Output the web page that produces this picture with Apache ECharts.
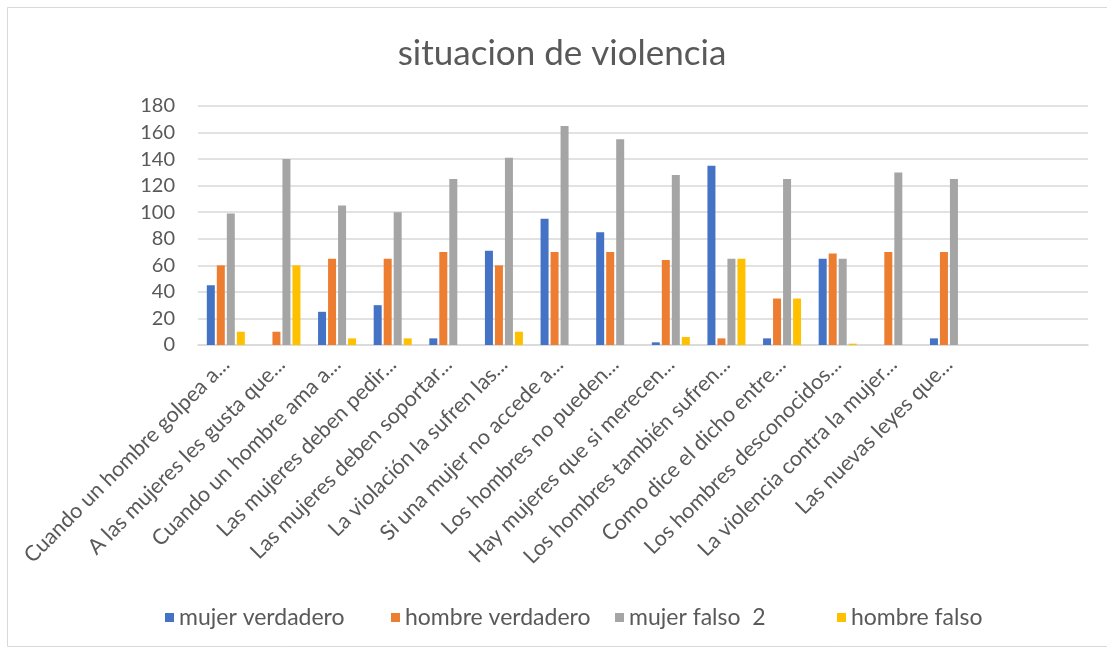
<!DOCTYPE html>
<html>
<head>
<meta charset="utf-8">
<script src="https://cdn.jsdelivr.net/npm/echarts@6/dist/echarts.min.js"></script>
<style>
  html, body { margin: 0; padding: 0; background: #fff; }
  #main { width: 1107px; height: 657px; }
</style>
</head>
<body>
<div id="main"></div>
<script>
// datos
var categorias = [
  'Cuando un hombre golpea a...',
  'A las mujeres les gusta que...',
  'Cuando un hombre ama a...',
  'Las mujeres deben pedir...',
  'Las mujeres deben soportar...',
  'La violación la sufren las...',
  'Si una mujer no accede a...',
  'Los hombres no pueden...',
  'Hay mujeres que si merecen...',
  'Los hombres también sufren...',
  'Como dice el dicho entre...',
  'Los hombres desconocidos...',
  'La violencia contra la mujer...',
  'Las nuevas leyes que...',
  '',
  ''
];
var mujerVerdadero = [45, null, 25, 30, 5, 71, 95, 85, 2, 135, 5, 65, null, 5];
var hombreVerdadero = [60, 10, 65, 65, 70, 60, 70, 70, 64, 5, 35, 69, 70, 70];
var mujerFalso = [99, 140, 105, 100, 125, 141, 165, 155, 128, 65, 125, 65, 130, 125];
var hombreFalso = [10, 60, 5, 5, null, 10, null, null, 6, 65, 35, 1, null, null];

var nombres = ['mujer verdadero', 'hombre verdadero', 'mujer falso  2', 'hombre falso'];
var colores = ['#4472C4', '#ED7D31', '#A5A5A5', '#FFC000'];
var valores = [mujerVerdadero, hombreVerdadero, mujerFalso, hombreFalso];

var fuente = 'Lato';
var chart = echarts.init(document.getElementById('main'), null, { renderer: 'canvas' });

var series = [];
var leyendas = [];
var leyendaX = [160, 386, 610, 832]; // entradas de ancho fijo como en Excel
for (var i = 0; i < nombres.length; i++) {
  series.push({
    name: nombres[i],
    type: 'bar',
    data: valores[i],
    barWidth: 8,
    barGap: '25%',
    itemStyle: { color: colores[i] }
  });
  leyendas.push({
    data: [nombres[i]],
    left: leyendaX[i],
    top: 601,
    itemWidth: 9,
    itemHeight: 9,
    icon: 'rect',
    textStyle: { fontFamily: fuente, fontSize: 23, color: '#595959' }
  });
}

var option = {
  animation: false,
  color: colores,
  graphic: [{
    type: 'rect',
    shape: { x: 7.5, y: 7.5, width: 1120, height: 639 },
    style: { fill: 'none', stroke: '#D9D9D9', lineWidth: 1 },
    silent: true
  }],
  title: {
    text: 'situacion de violencia',
    left: 557,
    textAlign: 'center',
    top: 31,
    textStyle: { fontFamily: fuente, fontSize: 35, fontWeight: 'normal', color: '#595959' }
  },
  legend: leyendas,
  grid: { left: 198, right: 19, top: 106, bottom: 312, containLabel: false },
  xAxis: {
    type: 'category',
    data: categorias,
    axisLine: { lineStyle: { color: '#D9D9D9', width: 1.5 } },
    axisTick: { show: false },
    axisLabel: {
      interval: 0,
      rotate: 45,
      margin: 16,
      fontFamily: fuente,
      fontSize: 21.5,
      color: '#595959'
    }
  },
  yAxis: {
    type: 'value',
    min: 0,
    max: 180,
    interval: 20,
    axisLine: { show: false },
    axisTick: { show: false },
    splitLine: { lineStyle: { color: '#D9D9D9', width: 1.5 } },
    axisLabel: { margin: 23, fontFamily: fuente, fontSize: 20, color: '#595959' }
  },
  series: series
};

chart.setOption(option);
</script>
</body>
</html>
